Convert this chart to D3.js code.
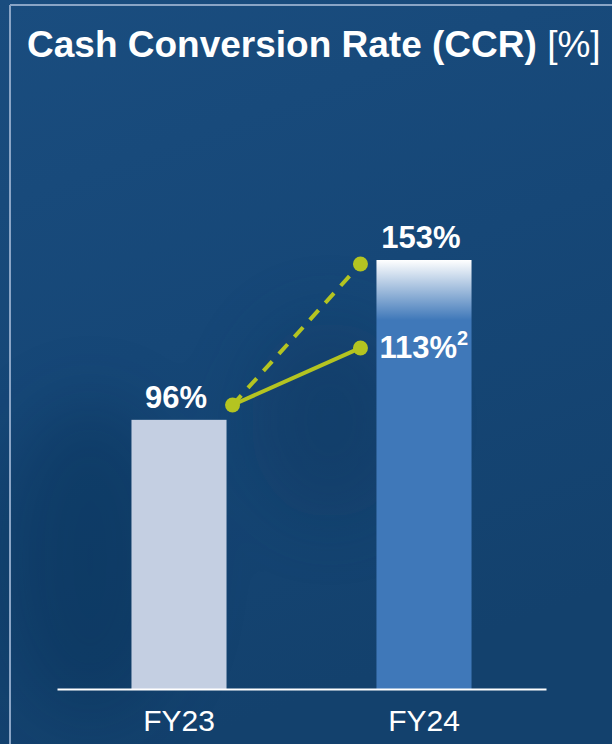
<!DOCTYPE html>
<html>
<head>
<meta charset="utf-8">
<script src="https://cdn.jsdelivr.net/npm/d3@7"></script>
<style>
  body { margin: 0; background: #174a7a; }
  svg { display: block; }
</style>
</head>
<body>
<script>
// data
var years = ["FY23", "FY24"];
var ccr = [96, 153];
var ccrAdj = [96, 113];       // solid line, FY24 adjusted
var labels = ["96%", "153%"];
var title = "Cash Conversion Rate (CCR)";

var W = 612, H = 744;
var font = "Liberation Sans, Arial, sans-serif";
var svg = d3.select("body").append("svg").attr("width", W).attr("height", H);
var defs = svg.append("defs");

// background
var bg = defs.append("linearGradient").attr("id", "bg")
    .attr("x1", 0).attr("y1", 0).attr("x2", 0.3).attr("y2", 1);
bg.append("stop").attr("offset", "0%").attr("stop-color", "#1a4d7f");
bg.append("stop").attr("offset", "50%").attr("stop-color", "#164777");
bg.append("stop").attr("offset", "100%").attr("stop-color", "#13416d");
svg.append("rect").attr("width", W).attr("height", H).attr("fill", "url(#bg)");

var blur = defs.append("filter").attr("id", "blur")
    .attr("x", "-50%").attr("y", "-50%").attr("width", "200%").attr("height", "200%");
blur.append("feGaussianBlur").attr("stdDeviation", 35);
// faint shadows of the photo behind
var g0 = svg.append("g").attr("filter", "url(#blur)").attr("opacity", 0.3);
g0.append("ellipse").attr("cx", 90).attr("cy", 560).attr("rx", 90).attr("ry", 160).attr("fill", "#062849");
g0.append("ellipse").attr("cx", 330).attr("cy", 420).attr("rx", 80).attr("ry", 100).attr("fill", "#0a3159");

// frame
svg.append("line").attr("x1", 10).attr("x2", W).attr("y1", 5).attr("y2", 5)
    .attr("stroke", "#8aa5c6").attr("stroke-width", 2);
svg.append("line").attr("x1", 10).attr("x2", 10).attr("y1", 5).attr("y2", H)
    .attr("stroke", "#8aa5c6").attr("stroke-width", 2);

// title
var t = svg.append("text").attr("x", 27).attr("y", 57)
    .attr("fill", "#fff").attr("font-family", font)
    .attr("font-size", 37);
t.append("tspan").attr("font-weight", "bold").text(title + " ");
t.append("tspan").text("[%]");

// scales
var x = d3.scaleBand().domain(years).range([57, 546]).paddingInner(0.612).paddingOuter(0.304);
var y = d3.scaleLinear().domain([0, 153]).range([689, 260]);
var yLine = d3.scaleLinear().domain([96, 153]).range([405, 264]);

// FY24 gradient
var bg2 = defs.append("linearGradient").attr("id", "fy24").attr("x1", 0).attr("y1", 0).attr("x2", 0).attr("y2", 1);
bg2.append("stop").attr("offset", "0%").attr("stop-color", "#ffffff");
bg2.append("stop").attr("offset", "14%").attr("stop-color", "#3f78b9");
bg2.append("stop").attr("offset", "100%").attr("stop-color", "#3f78b9");

svg.selectAll("rect.bar").data(years).enter().append("rect")
    .attr("class", "bar")
    .attr("x", function(d) { return x(d); })
    .attr("width", x.bandwidth())
    .attr("y", function(d, i) { return y(ccr[i]); })
    .attr("height", function(d, i) { return y(0) - y(ccr[i]); })
    .attr("fill", function(d, i) { return i == 0 ? "#c4cfe2" : "url(#fy24)"; });

// axis
var ax = svg.append("g").attr("transform", "translate(0," + y(0) + ")")
    .call(d3.axisBottom(x).tickSize(0).tickPadding(21));
ax.select(".domain").attr("stroke", "#fff").attr("stroke-width", 2);
ax.selectAll("text").attr("fill", "#fff").attr("font-size", 30)
    .attr("font-family", font).attr("dy", "0.71em");

// value labels
svg.selectAll("text.val").data(years).enter().append("text")
    .attr("class", "val")
    .attr("x", function(d, i) { return x(d) + x.bandwidth() / 2 - 3; })
    .attr("y", function(d, i) { return y(ccr[i]) - 12; })
    .attr("text-anchor", "middle")
    .attr("fill", "#fff").attr("font-weight", "bold").attr("font-size", 31)
    .attr("font-family", font)
    .text(function(d, i) { return labels[i]; });

// lines
var lx0 = x("FY23") + x.bandwidth() + 6;
var lx1 = x("FY24") - 16;
var lime = "#b4c421";
svg.append("line").attr("x1", lx0).attr("y1", yLine(ccr[0])).attr("x2", lx1).attr("y2", yLine(ccr[1]))
    .attr("stroke", lime).attr("stroke-width", 4).attr("stroke-dasharray", "13,10");
svg.append("line").attr("x1", lx0).attr("y1", yLine(ccrAdj[0])).attr("x2", lx1).attr("y2", yLine(ccrAdj[1]) - 15)
    .attr("stroke", lime).attr("stroke-width", 4);
[[lx0, yLine(96)], [lx1, yLine(153)], [lx1, yLine(113) - 15]].forEach(function(p) {
    svg.append("circle").attr("cx", p[0]).attr("cy", p[1]).attr("r", 7.5).attr("fill", lime);
});

var adj = svg.append("text").attr("x", x("FY24") + 3).attr("y", 358)
    .attr("fill", "#fff").attr("font-weight", "bold").attr("font-size", 31)
    .attr("font-family", font);
adj.append("tspan").text(ccrAdj[1] + "%");
adj.append("tspan").attr("font-size", 20).attr("dy", -13).text("2");
</script>
</body>
</html>
